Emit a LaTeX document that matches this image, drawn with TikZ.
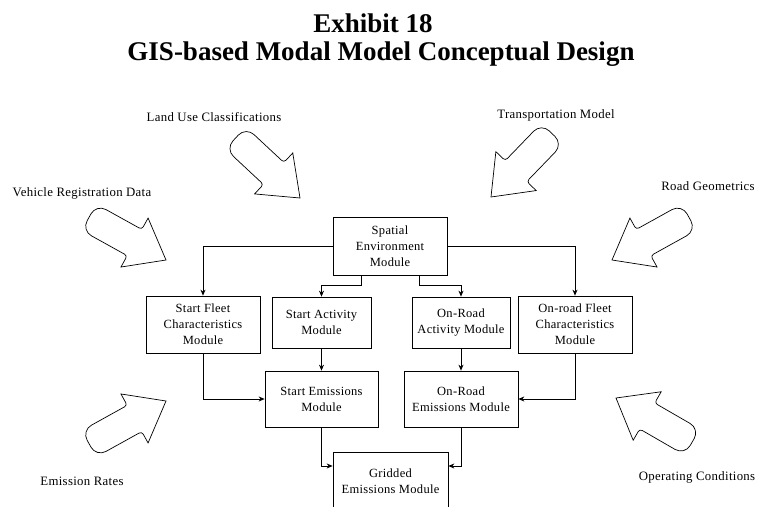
\documentclass[tikz,border=0pt]{standalone}
\usepackage{fontspec}
\setmainfont{Liberation Serif}
\newfontfamily\diagfont[LetterSpace=2.5]{Liberation Serif}
\usetikzlibrary{arrows.meta}

\tikzset{
  module/.style={draw, line width=0.7pt, align=center, inner sep=2pt,
    font=\diagfont\fontsize{12.5}{16}\selectfont},
  source/.style={font=\diagfont\fontsize{12.8}{15}\selectfont},
  link/.style={line width=0.7pt, -{Stealth[length=6pt,width=5pt]}},
  pics/inarrow/.style={code={
    \draw[line width=0.7pt] (0,0) -- (-36,-28)
      [rounded corners=3pt] -- (-36,-15)
      [rounded corners=11pt] -- (-88,-15) -- (-88,15)
      [rounded corners=3pt] -- (-36,15)
      [sharp corners] -- (-36,28) -- cycle;
  }}
}

\begin{document}
\begin{tikzpicture}[x=1pt,y=-1pt]
  \useasboundingbox (0,0) rectangle (763,506);

  % title
  \node[anchor=base, font=\bfseries\fontsize{27}{30}\selectfont] (title1) at (373,32) {Exhibit 18};
  \node[anchor=base, font=\bfseries\fontsize{27}{30}\selectfont] (title2) at (381,60) {GIS-based Modal Model Conceptual Design};

  % modules
  \node[module, minimum width=114, minimum height=58] (spatial) at (390,246) {Spatial\\Environment\\Module};
  \node[module, minimum width=114, minimum height=57] (fleetS) at (203,324.5) {Start Fleet\\Characteristics\\Module};
  \node[module, minimum width=99, minimum height=51] (actS) at (321.5,322.5) {Start Activity\\Module};
  \node[module, minimum width=98, minimum height=51] (actR) at (461,322.5) {On-Road\\Activity Module};
  \node[module, minimum width=114, minimum height=57] (fleetR) at (575,324.5) {On-road Fleet\\Characteristics\\Module};
  \node[module, minimum width=113, minimum height=56] (emiS) at (321.5,399) {Start Emissions\\Module};
  \node[module, minimum width=114, minimum height=56] (emiR) at (461,399) {On-Road\\Emissions Module};
  \node[module, minimum width=115, minimum height=58] (grid) at (390.5,481) {Gridded\\Emissions Module};

  % connectors
  \draw[link] (spatial.west) -| (fleetS.north);
  \draw[link] (spatial.east) -| (fleetR.north);
  \draw[link] ([xshift=-29pt]spatial.south) |- ([yshift=11pt]actS.north) -- (actS.north);
  \draw[link] ([xshift=29pt]spatial.south) |- ([yshift=11pt]actR.north) -- (actR.north);
  \draw[link] (actS) -- (emiS);
  \draw[link] (actR) -- (emiR);
  \draw[link] (fleetS.south) |- (emiS.west);
  \draw[link] (fleetR.south) |- (emiR.east);
  \draw[link] (emiS.south) |- ([yshift=15pt]grid.west);
  \draw[link] (emiR.south) |- ([yshift=15pt]grid.east);

  % data sources
  \node[source] (landuse) at (214,117) {Land Use Classifications};
  \node[source] (transp) at (556,115) {Transportation Model};
  \node[source] (vehreg) at (82,193) {Vehicle Registration Data};
  \node[source] (roadgeo) at (708,186) {Road Geometrics};
  \node[source] (emrates) at (82,481) {Emission Rates};
  \node[source] (opcond) at (697,477) {Operating Conditions};

  \pic[rotate=-43] at (300,198) {inarrow};
  \pic[rotate=-134] at (491,197) {inarrow};
  \pic[rotate=-29] at (166,260) {inarrow};
  \pic[rotate=-151] at (612,260) {inarrow};
  \pic[rotate=29] at (166,401) {inarrow};
  \pic[rotate=150] at (616,398) {inarrow};
\end{tikzpicture}
\end{document}
